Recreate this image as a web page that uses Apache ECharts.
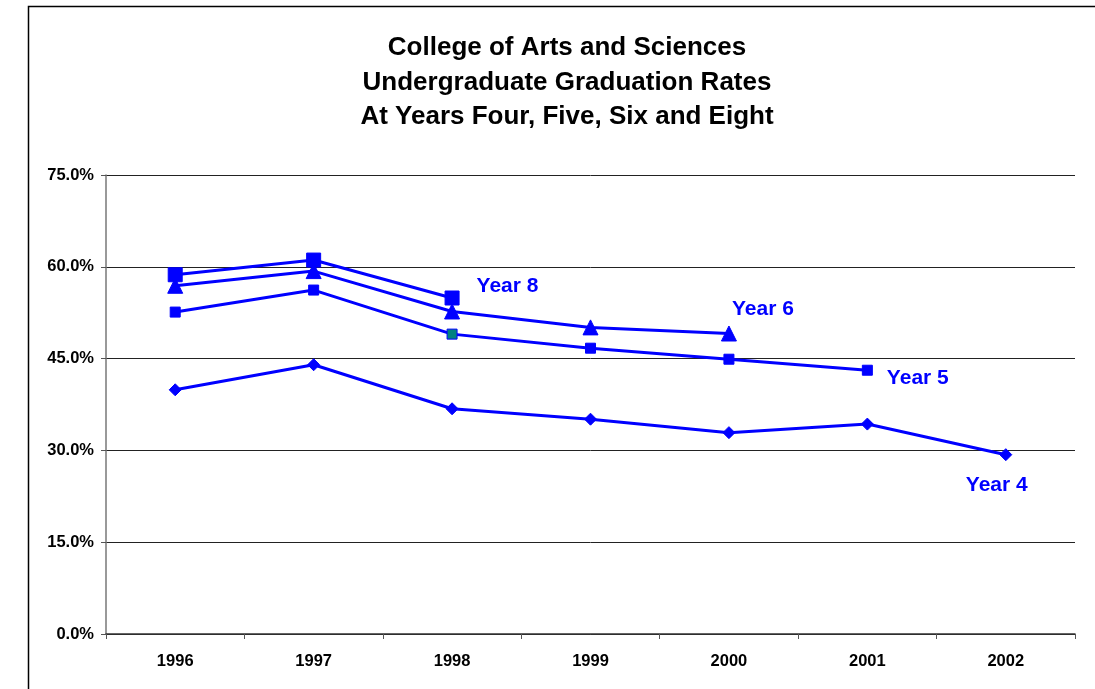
<!DOCTYPE html>
<html>
<head>
<meta charset="utf-8">
<script src="https://cdn.jsdelivr.net/npm/echarts@6/dist/echarts.min.js"></script>
<style>
  html, body { margin: 0; padding: 0; background: #fff; }
  #chart { width: 1095px; height: 689px; }
</style>
</head>
<body>
<div id="chart"></div>
<script>
// Graduation years (cohorts)
const years = ['1996', '1997', '1998', '1999', '2000', '2001', '2002'];

// Graduation rates in percent, by years after entry
const year8 = [58.7, 61.1, 54.9, null, null, null, null];
const year6 = [56.9, 59.3, 52.7, 50.1, 49.1, null, null];
const year5 = [52.6, 56.2, 49.0, 46.7, 44.9, 43.1, null];
const year4 = [39.9, 44.0, 36.8, 35.1, 32.9, 34.3, 29.3];

const seriesNames = ['Year 8', 'Year 6', 'Year 5', 'Year 4'];
const yTicks = { min: 0, max: 75, interval: 15 };

const BLUE = '#0000ff';
const FONT = '"Liberation Sans", Arial, sans-serif';

// Attach the series name as a label to the last point of a series
function withEndLabel(values, labelOpts) {
  let last = -1;
  values.forEach((v, i) => { if (v !== null) last = i; });
  return values.map((v, i) => {
    if (i !== last) return v;
    return {
      value: v,
      label: Object.assign({
        show: true,
        color: BLUE,
        fontFamily: FONT,
        fontWeight: 'bold',
        fontSize: 21
      }, labelOpts)
    };
  });
}

function lineSeries(name, data, symbol, size) {
  return {
    name: name,
    type: 'line',
    data: data,
    symbol: symbol,
    symbolSize: size,
    showAllSymbol: true,
    connectNulls: false,
    lineStyle: { color: BLUE, width: 3 },
    itemStyle: { color: BLUE, borderColor: BLUE },
    emphasis: { disabled: true },
    z: 3
  };
}

// Year 5 in 1998 is drawn with a teal fill
const year5Data = withEndLabel(year5, { position: 'right', offset: [9, 8], formatter: seriesNames[2] });
year5Data[2] = { value: year5[2], itemStyle: { color: '#008080', borderColor: BLUE, borderWidth: 1 } };

const chart = echarts.init(document.getElementById('chart'), null, { renderer: 'canvas' });

chart.setOption({
  animation: false,
  backgroundColor: '#ffffff',
  title: {
    text: 'College of Arts and Sciences\nUndergraduate Graduation Rates\nAt Years Four, Five, Six and Eight',
    left: 562,
    textAlign: 'center',
    top: 26,
    textStyle: {
      fontFamily: FONT,
      fontWeight: 'bold',
      fontSize: 26,
      lineHeight: 34.5,
      color: '#000'
    }
  },
  graphic: [{
    type: 'rect',
    shape: { x: 28.5, y: 6.5, width: 1100, height: 700 },
    style: { fill: 'none', stroke: '#000', lineWidth: 1.5 },
    silent: true,
    z: 0
  }],
  grid: { left: 106, right: 20, top: 175, bottom: 55, containLabel: false },
  xAxis: {
    type: 'category',
    data: years,
    boundaryGap: true,
    axisLine: { show: true, lineStyle: { color: '#333', width: 1.5 } },
    axisTick: { show: true, alignWithLabel: false, length: 5, lineStyle: { color: '#555' } },
    axisLabel: {
      color: '#000',
      fontFamily: FONT,
      fontWeight: 'bold',
      fontSize: 16.5,
      margin: 19
    },
    splitLine: { show: false }
  },
  yAxis: {
    type: 'value',
    min: yTicks.min,
    max: yTicks.max,
    interval: yTicks.interval,
    axisLine: { show: true, lineStyle: { color: '#777', width: 1.5 } },
    axisTick: { show: true, length: 5, inside: false, lineStyle: { color: '#555' } },
    axisLabel: {
      color: '#000',
      fontFamily: FONT,
      fontWeight: 'bold',
      fontSize: 16.5,
      margin: 12,
      formatter: v => v.toFixed(1) + '%'
    },
    splitLine: { show: true, lineStyle: { color: '#222', width: 1 } }
  },
  series: [
    lineSeries(seriesNames[0], withEndLabel(year8, { position: 'right', offset: [12, -12], formatter: seriesNames[0] }), 'rect', 14),
    lineSeries(seriesNames[1], withEndLabel(year6, { position: 'right', offset: [-10, -24], formatter: seriesNames[1] }), 'triangle', 15),
    lineSeries(seriesNames[2], year5Data, 'rect', 10),
    lineSeries(seriesNames[3], withEndLabel(year4, { position: 'bottom', offset: [-9, 9], formatter: seriesNames[3] }), 'diamond', 12)
  ]
});
</script>
</body>
</html>
